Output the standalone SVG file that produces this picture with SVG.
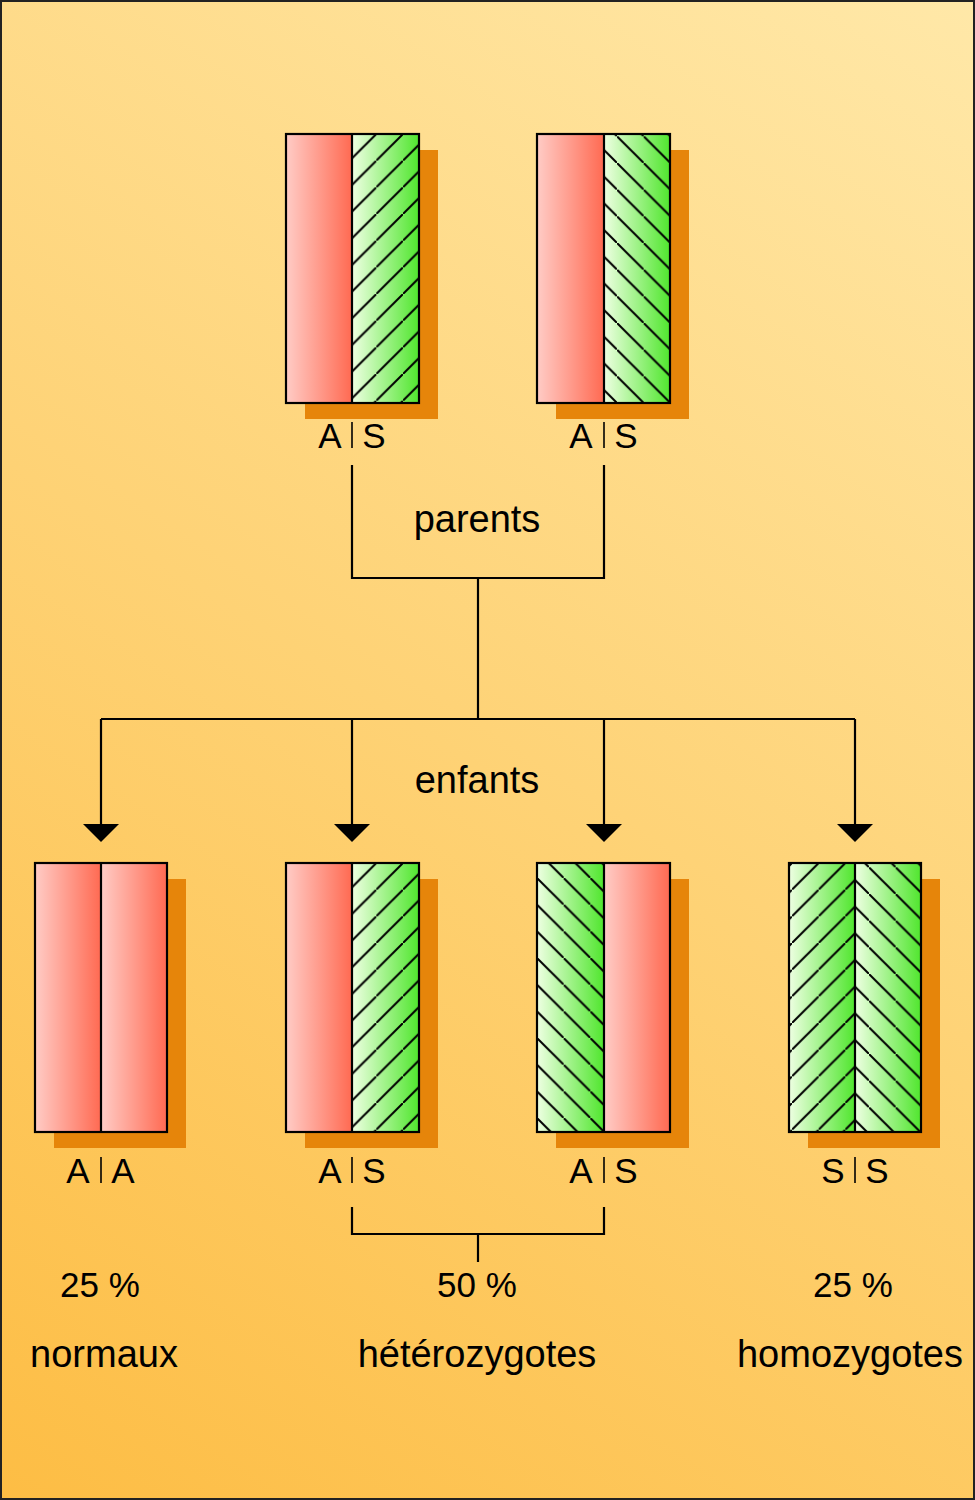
<svg xmlns="http://www.w3.org/2000/svg" width="975" height="1500" viewBox="0 0 975 1500">
  <defs>
    <linearGradient id="bg" gradientUnits="userSpaceOnUse" x1="975" y1="0" x2="0" y2="1500">
      <stop offset="0" stop-color="#FFE8A8"/>
      <stop offset="1" stop-color="#FDBD44"/>
    </linearGradient>
    <linearGradient id="red" x1="0" y1="0" x2="1" y2="0">
      <stop offset="0" stop-color="#FFCCC6"/>
      <stop offset="1" stop-color="#FF6A52"/>
    </linearGradient>
    <linearGradient id="green" x1="0" y1="0" x2="1" y2="0">
      <stop offset="0" stop-color="#EEFFE2"/>
      <stop offset="1" stop-color="#50E62E"/>
    </linearGradient>
    <pattern id="hfA" patternUnits="userSpaceOnUse" x="10.3" y="0" width="26.67" height="26.67">
      <path d="M-2,28.67 L28.67,-2" stroke="#000" stroke-width="2"/>
    </pattern>
    <pattern id="hfB" patternUnits="userSpaceOnUse" x="3" y="0" width="26.67" height="26.67">
      <path d="M-2,28.67 L28.67,-2" stroke="#000" stroke-width="2"/>
    </pattern>
    <pattern id="hbA" patternUnits="userSpaceOnUse" x="0" y="2.3" width="26.67" height="26.67">
      <path d="M-2,-2 L28.67,28.67" stroke="#000" stroke-width="2"/>
    </pattern>
    <pattern id="hbB" patternUnits="userSpaceOnUse" x="0" y="15" width="26.67" height="26.67">
      <path d="M-2,-2 L28.67,28.67" stroke="#000" stroke-width="2"/>
    </pattern>
    <pattern id="hbC" patternUnits="userSpaceOnUse" x="0" y="4.3" width="26.67" height="26.67">
      <path d="M-2,-2 L28.67,28.67" stroke="#000" stroke-width="2"/>
    </pattern>
    <marker id="arr" viewBox="0 0 18 36" refX="0" refY="18" markerWidth="18" markerHeight="36" markerUnits="userSpaceOnUse" orient="auto">
      <path d="M0,0 L18,18 L0,36 Z" fill="#000"/>
    </marker>
  </defs>
  <style>
    .shadow { fill: #E6850A; }
    .edge { fill: none; stroke: #000; stroke-width: 2.2; }
    .conn { fill: none; stroke: #000; stroke-width: 2.2; }
    .lab { font-family: "Liberation Sans", Arial, sans-serif; font-size: 35px; fill: #000; text-anchor: middle; }
    .word { font-family: "Liberation Sans", Arial, sans-serif; font-size: 38px; fill: #000; text-anchor: middle; }
    .bar { stroke: #000; stroke-width: 1.6; }
  </style>

  <rect x="0" y="0" width="975" height="1500" fill="url(#bg)"/>
  <rect x="1" y="1" width="973" height="1498" fill="none" stroke="#222" stroke-width="2"/>

  <!-- Parent 1 -->
  <g id="parent1" transform="translate(286,134)">
    <rect class="shadow" x="19" y="16" width="133" height="269"/>
    <rect x="0" y="0" width="66" height="269" fill="url(#red)"/>
    <rect x="66" y="0" width="67" height="269" fill="url(#green)"/>
    <rect x="66" y="0" width="67" height="269" fill="url(#hfA)"/>
    <rect class="edge" x="0" y="0" width="133" height="269"/>
    <line class="edge" x1="66" y1="0" x2="66" y2="269"/>
  </g>
  <!-- Parent 2 -->
  <g id="parent2" transform="translate(537,134)">
    <rect class="shadow" x="19" y="16" width="133" height="269"/>
    <rect x="0" y="0" width="67" height="269" fill="url(#red)"/>
    <rect x="67" y="0" width="66" height="269" fill="url(#green)"/>
    <rect x="67" y="0" width="66" height="269" fill="url(#hbA)"/>
    <rect class="edge" x="0" y="0" width="133" height="269"/>
    <line class="edge" x1="67" y1="0" x2="67" y2="269"/>
  </g>

  <!-- Child 1 AA -->
  <g id="child1" transform="translate(35,863)">
    <rect class="shadow" x="19" y="16" width="132" height="269"/>
    <rect x="0" y="0" width="66" height="269" fill="url(#red)"/>
    <rect x="66" y="0" width="66" height="269" fill="url(#red)"/>
    <rect class="edge" x="0" y="0" width="132" height="269"/>
    <line class="edge" x1="66" y1="0" x2="66" y2="269"/>
  </g>
  <!-- Child 2 AS -->
  <g id="child2" transform="translate(286,863)">
    <rect class="shadow" x="19" y="16" width="133" height="269"/>
    <rect x="0" y="0" width="66" height="269" fill="url(#red)"/>
    <rect x="66" y="0" width="67" height="269" fill="url(#green)"/>
    <rect x="66" y="0" width="67" height="269" fill="url(#hfA)"/>
    <rect class="edge" x="0" y="0" width="133" height="269"/>
    <line class="edge" x1="66" y1="0" x2="66" y2="269"/>
  </g>
  <!-- Child 3 SA -->
  <g id="child3" transform="translate(537,863)">
    <rect class="shadow" x="19" y="16" width="133" height="269"/>
    <rect x="0" y="0" width="67" height="269" fill="url(#green)"/>
    <rect x="0" y="0" width="67" height="269" fill="url(#hbB)"/>
    <rect x="67" y="0" width="66" height="269" fill="url(#red)"/>
    <rect class="edge" x="0" y="0" width="133" height="269"/>
    <line class="edge" x1="67" y1="0" x2="67" y2="269"/>
  </g>
  <!-- Child 4 SS -->
  <g id="child4" transform="translate(789,863)">
    <rect class="shadow" x="19" y="16" width="132" height="269"/>
    <rect x="0" y="0" width="66" height="269" fill="url(#green)"/>
    <rect x="0" y="0" width="66" height="269" fill="url(#hfB)"/>
    <rect x="66" y="0" width="66" height="269" fill="url(#green)"/>
    <rect x="66" y="0" width="66" height="269" fill="url(#hbC)"/>
    <rect class="edge" x="0" y="0" width="132" height="269"/>
    <line class="edge" x1="66" y1="0" x2="66" y2="269"/>
  </g>

  <!-- Genotype labels -->
  <g id="labels">
    <text class="lab" x="330" y="448">A</text><line class="bar" x1="352" y1="422" x2="352" y2="448"/><text class="lab" x="374" y="448">S</text>
    <text class="lab" x="581" y="448">A</text><line class="bar" x1="604" y1="422" x2="604" y2="448"/><text class="lab" x="626" y="448">S</text>
    <text class="lab" x="78" y="1183">A</text><line class="bar" x1="101" y1="1157" x2="101" y2="1183"/><text class="lab" x="123" y="1183">A</text>
    <text class="lab" x="330" y="1183">A</text><line class="bar" x1="352" y1="1157" x2="352" y2="1183"/><text class="lab" x="374" y="1183">S</text>
    <text class="lab" x="581" y="1183">A</text><line class="bar" x1="604" y1="1157" x2="604" y2="1183"/><text class="lab" x="626" y="1183">S</text>
    <text class="lab" x="833" y="1183">S</text><line class="bar" x1="855" y1="1157" x2="855" y2="1183"/><text class="lab" x="877" y="1183">S</text>
  </g>

  <!-- Connectors -->
  <g id="connectors">
    <path class="conn" d="M352,465 V578 H604 V465"/>
    <path class="conn" d="M478,578 V719"/>
    <path class="conn" d="M101,719 H855"/>
    <path class="conn" d="M101,719 V824" marker-end="url(#arr)"/>
    <path class="conn" d="M352,719 V824" marker-end="url(#arr)"/>
    <path class="conn" d="M604,719 V824" marker-end="url(#arr)"/>
    <path class="conn" d="M855,719 V824" marker-end="url(#arr)"/>
    <path class="conn" d="M352,1207 V1234 H604 V1207"/>
    <path class="conn" d="M478,1234 V1262"/>
  </g>

  <!-- Texts -->
  <g id="texts">
    <text class="word" x="477" y="532">parents</text>
    <text class="word" x="477" y="793">enfants</text>
    <text class="lab" x="100" y="1297">25 %</text>
    <text class="lab" x="477" y="1297">50 %</text>
    <text class="lab" x="853" y="1297">25 %</text>
    <text class="word" x="104" y="1367">normaux</text>
    <text class="word" x="477" y="1367">hétérozygotes</text>
    <text class="word" x="850" y="1367">homozygotes</text>
  </g>
</svg>
